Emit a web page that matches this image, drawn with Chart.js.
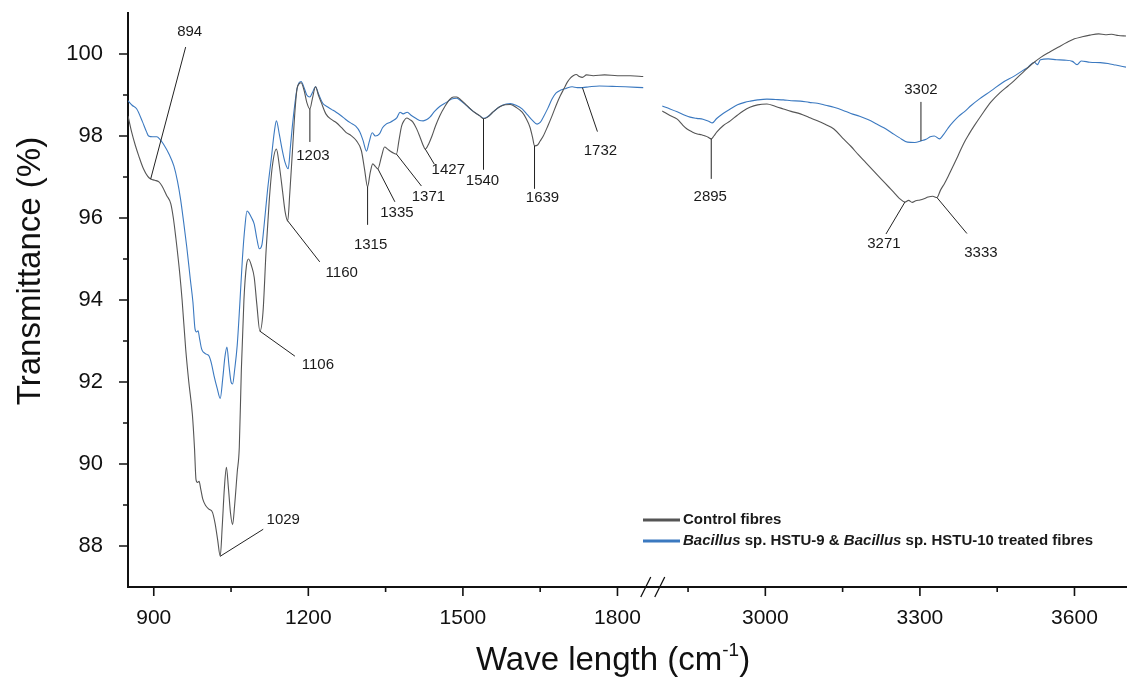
<!DOCTYPE html>
<html>
<head>
<meta charset="utf-8">
<script src="https://cdn.jsdelivr.net/npm/chart.js@4"></script>
<style>
  html, body { margin: 0; padding: 0; background: #fff; }
  #wrap { width: 1139px; height: 682px; }
</style>
</head>
<body>
<div id="wrap"><canvas id="ftir" width="1139" height="682"></canvas></div>
<script>
// FTIR spectra of jute fibres: wavenumber (cm-1) vs transmittance (%)
const controlLow = [
  [850, 98.49], [857, 98.10], [864, 97.78], [871, 97.51], [880, 97.20], [888, 97.02], [894, 96.95],
  [902, 96.92], [910, 96.88], [916, 96.78], [925, 96.55], [933, 96.35], [938, 96.00], [943, 95.50],
  [950, 94.70], [955, 94.00], [962, 92.80], [968, 92.00], [975, 91.20], [979, 90.40], [982, 89.62],
  [985, 89.55], [988, 89.58], [991, 89.40], [995, 89.15], [1001, 88.98], [1007, 88.90], [1014, 88.82],
  [1019, 88.55], [1024, 88.15], [1029, 87.75], [1033, 88.50], [1037, 89.40], [1041, 89.92], [1045, 89.40],
  [1049, 88.80], [1053, 88.52], [1057, 89.00], [1062, 89.80], [1066, 90.40], [1070, 92.30], [1075, 94.00],
  [1080, 94.85], [1084, 95.00], [1090, 94.82], [1095, 94.55], [1100, 93.90], [1106, 93.24], [1112, 93.70],
  [1118, 95.20], [1124, 96.40], [1130, 97.25], [1138, 97.68], [1144, 97.25], [1150, 96.65], [1155, 96.15],
  [1160, 95.93], [1164, 96.60], [1169, 97.60], [1174, 98.60], [1178, 99.15], [1182, 99.27], [1186, 99.30],
  [1192, 99.10], [1197, 98.82], [1203, 98.66], [1208, 98.92], [1214, 99.20], [1220, 98.98], [1225, 98.82],
  [1234, 98.54], [1244, 98.41], [1254, 98.33], [1264, 98.21], [1273, 98.09], [1283, 98.01], [1293, 97.89],
  [1303, 97.64], [1309, 97.20], [1315, 96.76], [1320, 97.10], [1325, 97.32], [1330, 97.26], [1335, 97.20],
  [1342, 97.50], [1348, 97.73], [1354, 97.68], [1360, 97.62], [1366, 97.58], [1371, 97.56], [1376, 97.90],
  [1381, 98.24], [1386, 98.38], [1391, 98.44], [1397, 98.40], [1403, 98.34], [1410, 98.18], [1416, 98.00],
  [1422, 97.80], [1427, 97.68], [1434, 97.82], [1440, 98.00], [1447, 98.25], [1455, 98.49], [1465, 98.72],
  [1475, 98.90], [1482, 98.95], [1488, 98.95], [1496, 98.88], [1508, 98.74], [1520, 98.60], [1533, 98.49],
  [1540, 98.42], [1548, 98.46], [1558, 98.58], [1570, 98.70], [1582, 98.76], [1592, 98.77], [1603, 98.70],
  [1615, 98.58], [1623, 98.42], [1630, 98.22], [1635, 97.98], [1639, 97.76], [1645, 97.78], [1650, 97.88],
  [1656, 98.00], [1665, 98.25], [1673, 98.49], [1681, 98.75], [1689, 98.98], [1696, 99.15], [1703, 99.32],
  [1709, 99.42], [1714, 99.47], [1720, 99.50], [1726, 99.45], [1732, 99.43], [1740, 99.49], [1753, 99.47],
  [1775, 99.49], [1800, 99.47], [1825, 99.47], [1850, 99.45]
];

const controlHigh = [
  [2800, 98.61], [2815, 98.50], [2829, 98.41], [2840, 98.26], [2848, 98.17], [2858, 98.10], [2868, 98.05],
  [2876, 98.03], [2883, 98.00], [2889, 97.97], [2895, 97.93], [2900, 98.00], [2906, 98.10], [2918, 98.25],
  [2932, 98.37], [2945, 98.50], [2957, 98.61], [2970, 98.70], [2985, 98.76], [3003, 98.78], [3020, 98.72],
  [3035, 98.66], [3050, 98.60], [3068, 98.54], [3085, 98.45], [3101, 98.37], [3117, 98.28], [3133, 98.17],
  [3150, 97.95], [3166, 97.75], [3180, 97.55], [3195, 97.35], [3210, 97.15], [3225, 96.95], [3240, 96.75],
  [3249, 96.63], [3260, 96.48], [3271, 96.39], [3278, 96.43], [3285, 96.38], [3292, 96.42], [3300, 96.44],
  [3308, 96.47], [3316, 96.51], [3325, 96.53], [3333, 96.50], [3340, 96.68], [3348, 96.85], [3355, 97.02],
  [3365, 97.28], [3374, 97.52], [3385, 97.82], [3395, 98.04], [3405, 98.24], [3419, 98.50], [3438, 98.83],
  [3455, 99.05], [3471, 99.22], [3483, 99.35], [3503, 99.59], [3520, 99.78], [3536, 99.93], [3552, 100.05],
  [3569, 100.17], [3585, 100.28], [3600, 100.37], [3615, 100.42], [3630, 100.46], [3647, 100.49], [3660, 100.47],
  [3672, 100.48], [3685, 100.45], [3700, 100.44]
];

const treatedLow = [
  [850, 98.86], [858, 98.75], [867, 98.66], [878, 98.35], [886, 98.10], [890, 98.00], [898, 97.98],
  [906, 97.98], [912, 97.92], [919, 97.80], [930, 97.55], [939, 97.27], [946, 96.90], [952, 96.46],
  [958, 95.90], [964, 95.30], [971, 94.50], [976, 93.95], [980, 93.30], [983, 93.22], [986, 93.25],
  [989, 93.05], [993, 92.80], [997, 92.72], [1002, 92.68], [1007, 92.64], [1012, 92.45], [1017, 92.15],
  [1023, 91.85], [1029, 91.60], [1034, 92.10], [1038, 92.60], [1042, 92.85], [1046, 92.40], [1050, 92.00],
  [1053, 91.95], [1057, 92.30], [1062, 92.90], [1067, 93.90], [1072, 95.00], [1077, 95.80], [1081, 96.17],
  [1085, 96.12], [1090, 96.00], [1095, 95.85], [1100, 95.50], [1105, 95.25], [1110, 95.35], [1114, 95.80],
  [1121, 96.70], [1128, 97.44], [1134, 98.10], [1138, 98.37], [1144, 98.02], [1149, 97.68], [1155, 97.35],
  [1161, 97.20], [1165, 97.70], [1169, 98.24], [1174, 98.80], [1178, 99.15], [1182, 99.30], [1186, 99.33],
  [1192, 99.17], [1197, 99.00], [1203, 98.95], [1208, 99.06], [1214, 99.20], [1220, 99.02], [1228, 98.80],
  [1236, 98.72], [1245, 98.65], [1254, 98.58], [1263, 98.50], [1272, 98.41], [1282, 98.32], [1292, 98.24],
  [1300, 98.10], [1306, 97.90], [1313, 97.63], [1318, 97.85], [1324, 98.08], [1330, 98.00], [1338, 98.05],
  [1344, 98.20], [1351, 98.29], [1358, 98.33], [1364, 98.37], [1372, 98.45], [1378, 98.58], [1384, 98.54],
  [1392, 98.58], [1400, 98.50], [1410, 98.42], [1416, 98.38], [1423, 98.37], [1430, 98.40], [1436, 98.46],
  [1445, 98.60], [1455, 98.72], [1468, 98.82], [1478, 98.90], [1488, 98.92], [1496, 98.86], [1507, 98.74],
  [1520, 98.60], [1533, 98.49], [1540, 98.43], [1548, 98.47], [1560, 98.60], [1572, 98.72], [1584, 98.78],
  [1592, 98.79], [1603, 98.75], [1615, 98.66], [1625, 98.52], [1635, 98.38], [1644, 98.29], [1650, 98.33],
  [1656, 98.46], [1665, 98.68], [1673, 98.90], [1681, 99.05], [1690, 99.12], [1700, 99.16], [1712, 99.20],
  [1722, 99.18], [1732, 99.18], [1745, 99.20], [1765, 99.22], [1790, 99.21], [1815, 99.20], [1850, 99.18]
];

const treatedHigh = [
  [2800, 98.73], [2815, 98.66], [2829, 98.59], [2845, 98.50], [2854, 98.46], [2867, 98.43], [2879, 98.41],
  [2890, 98.36], [2897, 98.32], [2905, 98.42], [2918, 98.55], [2932, 98.66], [2946, 98.76], [2960, 98.82],
  [2971, 98.85], [2985, 98.88], [3003, 98.90], [3020, 98.89], [3035, 98.88], [3050, 98.86], [3068, 98.85],
  [3085, 98.82], [3101, 98.80], [3117, 98.75], [3133, 98.70], [3150, 98.63], [3166, 98.55], [3183, 98.48],
  [3199, 98.40], [3215, 98.30], [3230, 98.20], [3245, 98.08], [3260, 97.96], [3276, 97.85], [3290, 97.84],
  [3302, 97.88], [3312, 97.92], [3320, 97.98], [3328, 98.00], [3338, 97.93], [3345, 98.02], [3355, 98.20],
  [3365, 98.35], [3375, 98.48], [3386, 98.59], [3400, 98.75], [3415, 98.90], [3438, 99.10], [3460, 99.30],
  [3483, 99.46], [3500, 99.60], [3510, 99.68], [3522, 99.80], [3528, 99.74], [3534, 99.86], [3549, 99.88],
  [3565, 99.86], [3580, 99.85], [3596, 99.82], [3605, 99.74], [3613, 99.83], [3630, 99.80], [3650, 99.79],
  [3665, 99.77], [3680, 99.73], [3700, 99.68]
];

const xMajorTicks = [900, 1200, 1500, 1800, 3000, 3300, 3600];
const xMinorTicks = [1050, 1350, 1650, 2850, 3150, 3450];
const yMajorTicks = [88, 90, 92, 94, 96, 98, 100];
const yMinorTicks = [89, 91, 93, 95, 97, 99];

const peakWavenumbers = [894, 1029, 1106, 1160, 1203, 1315, 1335, 1371, 1427, 1540, 1639, 1732, 2895, 3271, 3302, 3333];
const treatedPeaks = [1732, 3302];

const seriesNames = ['Control fibres', 'Bacillus sp. HSTU-9 & Bacillus sp. HSTU-10 treated fibres'];

// leader line end (dx, dy) and label centre (tx, ty), px from the band point
const leaderLayout = {
  894: [35, -132, 39, -147], 1029: [43, -27, 63, -36], 1106: [35, 25, 58, 34],
  1160: [32, 41, 54, 52], 1203: [0, 33, 3, 47], 1315: [0, 38, 3, 58],
  1335: [17, 33, 19, 44], 1371: [25, 32, 32, 43], 1427: [9, 15, 23, 21],
  1540: [0, 51, -1, 62], 1639: [0, 43, 8, 52], 1732: [15, 44, 18, 63],
  2895: [0, 40, -1, 58], 3271: [-19, 32, -21, 42], 3302: [0, -39, 0, -51],
  3333: [30, 36, 44, 55]
};

// broken axis: 1850-2800 is squeezed into a short gap
const BREAK_LO = 1850, BREAK_HI = 2800, BREAK_GAP = 37;
function toAxis(wn) {
  return wn <= BREAK_LO ? wn : wn - BREAK_HI + BREAK_LO + BREAK_GAP;
}

function toPoints(low, high) {
  const pts = low.map(p => ({ x: toAxis(p[0]), y: p[1] }));
  pts.push({ x: toAxis(BREAK_LO) + BREAK_GAP / 2, y: null });
  high.forEach(p => pts.push({ x: toAxis(p[0]), y: p[1] }));
  return pts;
}

function valueAt(series, wn) {
  for (let i = 0; i < series.length - 1; i++) {
    const a = series[i], b = series[i + 1];
    if (wn >= a[0] && wn <= b[0]) {
      return a[1] + (b[1] - a[1]) * (wn - a[0]) / (b[0] - a[0]);
    }
  }
  return null;
}

const FONT = '"Liberation Sans", Arial, sans-serif';
const CONTROL_COLOR = '#555555';
const TREATED_COLOR = '#3b79c0';

const axisExtras = {
  id: 'axisExtras',
  afterDraw(chart) {
    const { ctx, chartArea: a } = chart;
    const x = chart.scales.x, y = chart.scales.y;
    ctx.save();

    // tick marks
    ctx.strokeStyle = '#111';
    ctx.lineWidth = 1.6;
    ctx.beginPath();
    xMajorTicks.forEach(v => { const px = x.getPixelForValue(toAxis(v)); ctx.moveTo(px, a.bottom); ctx.lineTo(px, a.bottom + 9); });
    xMinorTicks.forEach(v => { const px = x.getPixelForValue(toAxis(v)); ctx.moveTo(px, a.bottom); ctx.lineTo(px, a.bottom + 5); });
    yMajorTicks.forEach(v => { const py = y.getPixelForValue(v); ctx.moveTo(a.left, py); ctx.lineTo(a.left - 9, py); });
    yMinorTicks.forEach(v => { const py = y.getPixelForValue(v); ctx.moveTo(a.left, py); ctx.lineTo(a.left - 5, py); });
    ctx.stroke();

    // break marks
    const bx = x.getPixelForValue(toAxis(BREAK_LO) + BREAK_GAP / 2);
    ctx.lineWidth = 1.3;
    ctx.beginPath();
    [-7, 7].forEach(off => {
      ctx.moveTo(bx + off - 5, a.bottom + 10);
      ctx.lineTo(bx + off + 5, a.bottom - 10);
    });
    ctx.stroke();

    // axis titles
    ctx.fillStyle = '#111';
    ctx.font = '33px ' + FONT;
    ctx.textBaseline = 'middle';
    ctx.textAlign = 'center';
    ctx.save();
    ctx.translate(31, 271);
    ctx.rotate(-Math.PI / 2);
    ctx.fillText('Transmittance (%)', 0, 0);
    ctx.restore();

    ctx.textBaseline = 'alphabetic';
    ctx.textAlign = 'left';
    const main = 'Wave length (cm', sup = '-1', close = ')';
    ctx.font = '33px ' + FONT;
    const w1 = ctx.measureText(main).width, w3 = ctx.measureText(close).width;
    ctx.font = '19px ' + FONT;
    const w2 = ctx.measureText(sup).width;
    let tx = 613 - (w1 + w2 + w3) / 2;
    const base = 670;
    ctx.font = '33px ' + FONT;
    ctx.fillText(main, tx, base);
    tx += w1;
    ctx.font = '19px ' + FONT;
    ctx.fillText(sup, tx, base - 14);
    tx += w2;
    ctx.font = '33px ' + FONT;
    ctx.fillText(close, tx, base);

    ctx.restore();
  }
};

const peakLabels = {
  id: 'peakLabels',
  afterDatasetsDraw(chart) {
    const { ctx } = chart;
    const x = chart.scales.x, y = chart.scales.y;
    ctx.save();
    ctx.strokeStyle = '#222';
    ctx.fillStyle = '#1a1a1a';
    ctx.lineWidth = 1;
    ctx.font = '15px ' + FONT;
    ctx.textAlign = 'center';
    ctx.textBaseline = 'middle';
    peakWavenumbers.forEach(wn => {
      const onTreated = treatedPeaks.includes(wn);
      const series = wn <= BREAK_LO
        ? (onTreated ? treatedLow : controlLow)
        : (onTreated ? treatedHigh : controlHigh);
      const px = x.getPixelForValue(toAxis(wn));
      const py = y.getPixelForValue(valueAt(series, wn));
      const [dx, dy, lx, ly] = leaderLayout[wn];
      ctx.beginPath();
      ctx.moveTo(px, py);
      ctx.lineTo(px + dx, py + dy);
      ctx.stroke();
      ctx.fillText(String(wn), px + lx, py + ly);
    });
    ctx.restore();
  }
};

const seriesKey = {
  id: 'seriesKey',
  afterDraw(chart) {
    const { ctx } = chart;
    ctx.save();
    const rows = [
      { color: CONTROL_COLOR, parts: [['Control fibres', false]] },
      { color: TREATED_COLOR, parts: [['Bacillus', true], [' sp. HSTU-9 & ', false], ['Bacillus', true], [' sp. HSTU-10 treated fibres', false]] }
    ];
    rows.forEach((row, i) => {
      const cy = 520 + i * 21;
      ctx.strokeStyle = row.color;
      ctx.lineWidth = 3;
      ctx.beginPath();
      ctx.moveTo(643, cy);
      ctx.lineTo(680, cy);
      ctx.stroke();
      let tx = 683;
      ctx.fillStyle = '#1a1a1a';
      ctx.textBaseline = 'middle';
      row.parts.forEach(([txt, italic]) => {
        ctx.font = (italic ? 'italic ' : '') + 'bold 15px ' + FONT;
        ctx.fillText(txt, tx, cy);
        tx += ctx.measureText(txt).width;
      });
    });
    ctx.restore();
  }
};

new Chart(document.getElementById('ftir'), {
  type: 'line',
  data: {
    datasets: [
      {
        label: seriesNames[0],
        data: toPoints(controlLow, controlHigh),
        borderColor: CONTROL_COLOR,
        borderWidth: 1.1,
        pointRadius: 0,
        cubicInterpolationMode: 'monotone',
        spanGaps: false
      },
      {
        label: seriesNames[1],
        data: toPoints(treatedLow, treatedHigh),
        borderColor: TREATED_COLOR,
        borderWidth: 1.1,
        pointRadius: 0,
        cubicInterpolationMode: 'monotone',
        spanGaps: false
      }
    ]
  },
  options: {
    responsive: false,
    animation: false,
    devicePixelRatio: 1,
    layout: { padding: { top: 13, right: 13, left: 0, bottom: 0 } },
    plugins: { legend: { display: false }, tooltip: { enabled: false } },
    scales: {
      x: {
        type: 'linear',
        min: 850,
        max: toAxis(3700),
        afterFit(scale) {
          scale.height = 95;
          scale.paddingLeft = 0;
          scale.paddingRight = 0;
        },
        afterBuildTicks(scale) { scale.ticks = xMajorTicks.map(v => ({ value: toAxis(v) })); },
        grid: { display: false },
        border: { display: true, color: '#111', width: 2 },
        ticks: {
          autoSkip: false,
          maxRotation: 0,
          padding: 11,
          color: '#111',
          font: { family: FONT, size: 21 },
          callback: (value, i) => String(xMajorTicks[i])
        }
      },
      y: {
        type: 'linear',
        min: 87,
        max: 101,
        afterFit(scale) {
          scale.width = 128;
          scale.paddingTop = 0;
          scale.paddingBottom = 0;
        },
        afterBuildTicks(scale) { scale.ticks = yMajorTicks.map(v => ({ value: v })); },
        grid: { display: false },
        border: { display: true, color: '#111', width: 2 },
        ticks: {
          padding: 17,
          color: '#111',
          font: { family: FONT, size: 22 },
          callback: value => String(value)
        }
      }
    }
  },
  plugins: [axisExtras, peakLabels, seriesKey]
});
</script>
</body>
</html>
